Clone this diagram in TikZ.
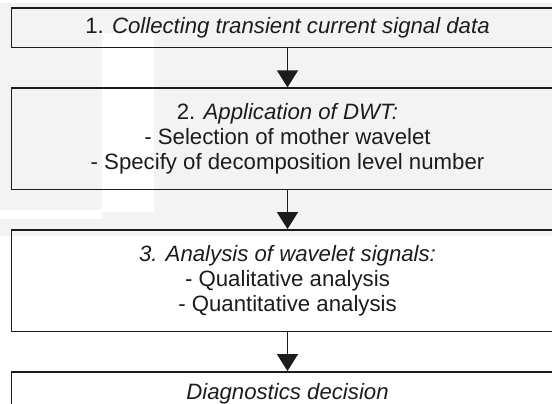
\documentclass[tikz,border=0pt]{standalone}
\usepackage{fontspec}
\setmainfont{Liberation Sans}
\usepackage{tikz}
\usetikzlibrary{positioning}
\usetikzlibrary{arrows.meta}
\usepackage{xcolor}
\definecolor{inkgray}{HTML}{1C1C1C}
\definecolor{bandgray}{HTML}{F3F3F3}

\begin{document}
\begin{tikzpicture}[x=1pt, y=-1pt, node distance=39pt,
		stepbox/.style={draw=inkgray, line width=1.4pt, text=inkgray, minimum width=551.6pt, align=center, inner sep=0pt, font=\fontsize{22.2}{25}\selectfont},
		flow/.style={draw=inkgray, line width=1.3pt, -{Triangle[width=21pt, length=17pt]}}]
				\useasboundingbox (0, 0) rectangle (552, 404);
				\fill[bandgray] (0, 3.3) rectangle (552, 236);
				\fill[white] (0, 210) rectangle (102, 219);
				\fill[white] (102, 33) rectangle (154, 212);
				\node[stepbox, minimum height=39.7pt] (collect) at (287.5, 27.85) {1. \textit{Collecting transient current signal data}};
				\node[stepbox, minimum height=101.3pt, below=of collect] (dwt) {2. \textit{Application of DWT:}\\ - Selection of mother wavelet\\ - Specify of decomposition level number};
				\node[stepbox, minimum height=101.6pt, below=of dwt] (analysis) {\textit{3. Analysis of wavelet signals:}\\ - Qualitative analysis\\ - Quantitative analysis};
				\node[stepbox, minimum height=44pt, below=of analysis] (decision) {\textit{Diagnostics decision}};
				\draw[flow] (collect) -- (dwt);
				\draw[flow] (dwt) -- (analysis);
				\draw[flow] (analysis) -- (decision);
			\end{tikzpicture}
\end{document}
